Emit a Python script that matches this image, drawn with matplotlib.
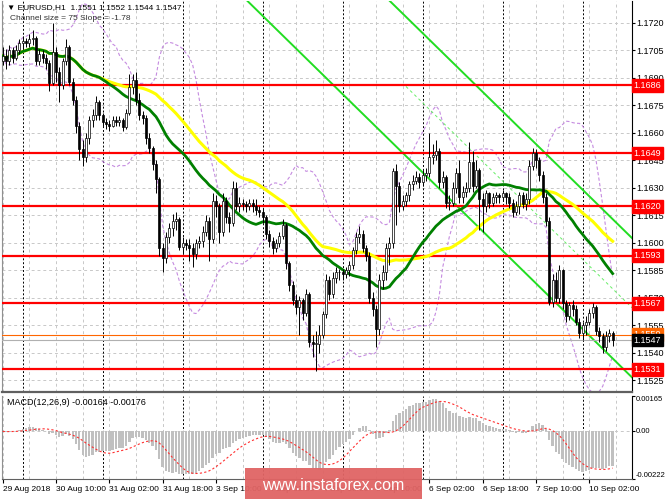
import numpy as np
import pandas as pd
import matplotlib
matplotlib.use('Agg')
from matplotlib import pyplot as plt
from matplotlib.patches import Rectangle

# EURUSD H1, bar 0 = 29 Aug 2018 18:00, last bar = 10 Sep 2018 09:00
first_open = 1.1699
closes = [
    1.1702, 1.1699, 1.1705, 1.1701, 1.1705, 1.1709, 1.1710, 1.1709,
    1.1711, 1.1712, 1.1699, 1.1703, 1.1701, 1.1698, 1.1687, 1.1704,
    1.1693, 1.1686, 1.1699, 1.1707, 1.1688, 1.1678, 1.1664, 1.1651,
    1.1647, 1.1657, 1.1667, 1.1670, 1.1677, 1.1670, 1.1666, 1.1665,
    1.1664, 1.1667, 1.1666, 1.1667, 1.1663, 1.1671, 1.1685, 1.1689,
    1.1678, 1.1670, 1.1668, 1.1657, 1.1652, 1.1643, 1.1635, 1.1597,
    1.1592, 1.1603, 1.1608, 1.1612, 1.1613, 1.1598, 1.1600, 1.1599,
    1.1597, 1.1594, 1.1600, 1.1601, 1.1606, 1.1612, 1.1602, 1.1623,
    1.1620, 1.1606, 1.1623, 1.1614, 1.1611, 1.1630, 1.1620, 1.1622,
    1.1621, 1.1620, 1.1622, 1.1620, 1.1618, 1.1617, 1.1614, 1.1605,
    1.1601, 1.1597, 1.1600, 1.1604, 1.1610, 1.1589, 1.1577, 1.1569,
    1.1565, 1.1569, 1.1562, 1.1572, 1.1546, 1.1545, 1.1545, 1.1550,
    1.1561, 1.1580, 1.1572, 1.1581, 1.1584, 1.1584, 1.1583, 1.1585,
    1.1588, 1.1596, 1.1603, 1.1605, 1.1597, 1.1593, 1.1570, 1.1564,
    1.1553, 1.1580, 1.1584, 1.1597, 1.1600, 1.1639, 1.1631, 1.1620,
    1.1623, 1.1626, 1.1632, 1.1634, 1.1636, 1.1633, 1.1637, 1.1638,
    1.1647, 1.1648, 1.1650, 1.1633, 1.1636, 1.1622, 1.1622, 1.1630,
    1.1638, 1.1625, 1.1628, 1.1630, 1.1644, 1.1631, 1.1640, 1.1624,
    1.1620, 1.1627, 1.1622, 1.1625, 1.1626, 1.1625, 1.1627, 1.1625,
    1.1622, 1.1617, 1.1620, 1.1626, 1.1621, 1.1624, 1.1642, 1.1649,
    1.1645, 1.1637, 1.1625, 1.1612, 1.1568, 1.1580, 1.1570, 1.1585,
    1.1567, 1.1560, 1.1566, 1.1564, 1.1557, 1.1551, 1.1555, 1.1557,
    1.1562, 1.1565, 1.1552, 1.1549, 1.1543, 1.1549, 1.1551, 1.1547,
]
highs = [
    1.1707, 1.1706, 1.1708, 1.1707, 1.1708, 1.1711, 1.1713, 1.1712,
    1.1714, 1.1716, 1.1713, 1.1706, 1.1705, 1.1703, 1.1700, 1.1720,
    1.1707, 1.1696, 1.1701, 1.1711, 1.1708, 1.1690, 1.1680, 1.1666,
    1.1656, 1.1660, 1.1669, 1.1673, 1.1680, 1.1678, 1.1671, 1.1668,
    1.1667, 1.1669, 1.1669, 1.1669, 1.1668, 1.1673, 1.1692, 1.1692,
    1.1693, 1.1682, 1.1672, 1.1670, 1.1660, 1.1653, 1.1645, 1.1636,
    1.1600, 1.1606, 1.1611, 1.1616, 1.1617, 1.1614, 1.1603, 1.1602,
    1.1602, 1.1600, 1.1602, 1.1604, 1.1609, 1.1615, 1.1614, 1.1627,
    1.1626, 1.1622, 1.1627, 1.1625, 1.1617, 1.1634, 1.1633, 1.1625,
    1.1624, 1.1623, 1.1624, 1.1624, 1.1624, 1.1620, 1.1619, 1.1615,
    1.1607, 1.1603, 1.1602, 1.1606, 1.1613, 1.1611, 1.1590, 1.1579,
    1.1572, 1.1571, 1.1570, 1.1575, 1.1573, 1.1550, 1.1552, 1.1555,
    1.1563, 1.1583, 1.1582, 1.1584, 1.1587, 1.1586, 1.1586, 1.1587,
    1.1590, 1.1598, 1.1606, 1.1609, 1.1607, 1.1599, 1.1595, 1.1573,
    1.1566, 1.1583, 1.1588, 1.1600, 1.1603, 1.1641, 1.1643, 1.1633,
    1.1626, 1.1628, 1.1634, 1.1637, 1.1639, 1.1638, 1.1640, 1.1641,
    1.1660, 1.1654, 1.1656, 1.1652, 1.1639, 1.1637, 1.1626, 1.1633,
    1.1641, 1.1645, 1.1631, 1.1633, 1.1655, 1.1650, 1.1645, 1.1641,
    1.1627, 1.1629, 1.1628, 1.1627, 1.1628, 1.1627, 1.1629, 1.1628,
    1.1627, 1.1624, 1.1623, 1.1628, 1.1628, 1.1627, 1.1645, 1.1652,
    1.1651, 1.1647, 1.1639, 1.1627, 1.1614, 1.1583, 1.1584, 1.1588,
    1.1586, 1.1569, 1.1568, 1.1569, 1.1566, 1.1559, 1.1557, 1.1560,
    1.1564, 1.1567, 1.1566, 1.1554, 1.1551, 1.1552, 1.1553, 1.1552,
]
lows = [
    1.1697, 1.1695, 1.1697, 1.1698, 1.1700, 1.1703, 1.1706, 1.1707,
    1.1707, 1.1708, 1.1697, 1.1697, 1.1698, 1.1695, 1.1683, 1.1686,
    1.1688, 1.1677, 1.1684, 1.1697, 1.1686, 1.1675, 1.1660, 1.1645,
    1.1642, 1.1644, 1.1654, 1.1663, 1.1667, 1.1667, 1.1664, 1.1662,
    1.1661, 1.1663, 1.1664, 1.1664, 1.1661, 1.1662, 1.1670, 1.1681,
    1.1675, 1.1667, 1.1665, 1.1654, 1.1649, 1.1640, 1.1627, 1.1593,
    1.1584, 1.1589, 1.1600, 1.1604, 1.1607, 1.1596, 1.1594, 1.1596,
    1.1590, 1.1587, 1.1591, 1.1597, 1.1598, 1.1604, 1.1590, 1.1600,
    1.1614, 1.1600, 1.1604, 1.1611, 1.1606, 1.1609, 1.1618, 1.1617,
    1.1618, 1.1617, 1.1618, 1.1617, 1.1615, 1.1614, 1.1611, 1.1602,
    1.1598, 1.1594, 1.1595, 1.1598, 1.1602, 1.1586, 1.1574, 1.1566,
    1.1561, 1.1550, 1.1558, 1.1560, 1.1543, 1.1538, 1.1530, 1.1540,
    1.1548, 1.1559, 1.1569, 1.1570, 1.1578, 1.1580, 1.1580, 1.1581,
    1.1582, 1.1586, 1.1594, 1.1600, 1.1595, 1.1590, 1.1567, 1.1560,
    1.1543, 1.1550, 1.1575, 1.1580, 1.1588, 1.1597, 1.1610, 1.1617,
    1.1618, 1.1620, 1.1623, 1.1629, 1.1632, 1.1630, 1.1631, 1.1634,
    1.1636, 1.1643, 1.1645, 1.1630, 1.1630, 1.1619, 1.1618, 1.1620,
    1.1627, 1.1622, 1.1622, 1.1625, 1.1628, 1.1628, 1.1630, 1.1607,
    1.1606, 1.1617, 1.1619, 1.1620, 1.1622, 1.1622, 1.1623, 1.1621,
    1.1619, 1.1614, 1.1615, 1.1616, 1.1619, 1.1618, 1.1621, 1.1640,
    1.1641, 1.1634, 1.1622, 1.1609, 1.1566, 1.1565, 1.1568, 1.1567,
    1.1564, 1.1557, 1.1558, 1.1560, 1.1555, 1.1548, 1.1547, 1.1550,
    1.1555, 1.1559, 1.1550, 1.1546, 1.1540, 1.1541, 1.1546, 1.1544,
]

levels = [1.1686, 1.1649, 1.1620, 1.1593, 1.1567, 1.1531]
bid_price = 1.1547
ask_price = 1.1550
price_ticks = [1.1525, 1.1540, 1.1555, 1.1570, 1.1585, 1.1600, 1.1615,
               1.1630, 1.1645, 1.1660, 1.1675, 1.1690, 1.1705, 1.1720]
macd_ticks = [-0.00222, 0.0, 0.00165]
macd_tick_labels = ['-0.00222', '0.00', '0.00165']

time_labels = ['29 Aug 2018', '30 Aug 10:00', '31 Aug 02:00', '31 Aug 18:00',
               '3 Sep 10:00', '4 Sep 02:00', '4 Sep 18:00', '5 Sep 10:00',
               '6 Sep 02:00', '6 Sep 18:00', '7 Sep 10:00', '10 Sep 02:00']
day_starts = [6, 30, 54, 78, 102, 126, 150, 174]

# regression channel (slope in pips per bar, as in the chart header)
channel_slope = -1.78
channel_mid_last = 1.1575
channel_half = 0.0038
channel_mid_start = 121

plt.rcParams['font.family'] = ['Liberation Sans', 'DejaVu Sans']
FS = 6.5

n = len(closes)
x = np.arange(n)
close = pd.Series(closes)
opens = np.array([first_open] + closes[:-1])
cl = np.array(closes)
hi = np.maximum(np.array(highs), np.maximum(opens, cl))
lo = np.minimum(np.array(lows), np.minimum(opens, cl))

ma30 = close.rolling(30, min_periods=1).mean()
ma50 = close.rolling(50, min_periods=1).mean()
bb_mid = close.rolling(20, min_periods=1).mean()
bb_std = close.rolling(20, min_periods=1).std(ddof=0)
bb_up = bb_mid + 2 * bb_std
bb_dn = bb_mid - 2 * bb_std
macd = close.ewm(span=12, adjust=False).mean() - close.ewm(span=26, adjust=False).mean()
signal = macd.rolling(9, min_periods=1).mean()

W, H = 665, 499
fig = plt.figure(figsize=(W / 100, H / 100), dpi=100)
left, right = 2 / W, 632 / W
ax = fig.add_axes([left, 1 - 392 / H, right - left, 391 / H])
axm = fig.add_axes([left, 1 - 479 / H, right - left, 83 / H])

xlim = (-0.2, 188.8)
for a in (ax, axm):
    a.set_xlim(*xlim)
    a.set_facecolor('white')
    for i in range(0, 190, 8):
        a.axvline(i, color='#c8c8c8', lw=0.7, ls=(0, (3, 3)), zorder=0)
    for d in day_starts:
        a.axvline(d, color='black', lw=0.7, ls=(0, (2, 2)), zorder=0.5)
    a.spines['top'].set_visible(False)
    a.spines['left'].set_color('#909090')
    a.spines['right'].set_color('black')
    a.spines['bottom'].set_color('#606060')
ax.spines['bottom'].set_linewidth(1.6)

ax.set_ylim(1.15187, 1.17320)
for p in price_ticks:
    ax.axhline(p, color='#c8c8c8', lw=0.7, ls=(0, (3, 3)), zorder=0)

# bollinger bands
for band in (bb_up, bb_dn):
    ax.plot(x, band, color='#c58be0', lw=0.8, ls=(0, (3, 2)), zorder=1)

# regression channel
slope = channel_slope * 0.0001
xx = np.array([xlim[0], xlim[1]])
mid_full = channel_mid_last + slope * (xx - (n - 1))
ax.plot(xx, mid_full + channel_half, color='#22dd22', lw=1.4, zorder=2)
ax.plot(xx, mid_full - channel_half, color='#22dd22', lw=1.4, zorder=2)
xm = np.array([channel_mid_start, xlim[1]])
ax.plot(xm, channel_mid_last + slope * (xm - (n - 1)), color='#66ee66',
        lw=0.7, ls=(0, (3, 3)), zorder=2)

# level lines
for lv in levels:
    ax.axhline(lv, color='#ff0000', lw=1.6, zorder=3)
ax.axhline(ask_price, color='#ff6600', lw=0.8, zorder=3)
ax.axhline(bid_price, color='#b0b0b0', lw=0.8, zorder=3)

# moving averages
ax.plot(x, ma50, color='#ffff00', lw=2.2, zorder=4)
ax.plot(x, ma30, color='#008000', lw=2.0, zorder=4)

# candles
up = cl >= opens
ax.vlines(x, lo, hi, color='black', lw=0.7, zorder=5)
body_lo = np.minimum(opens, cl)
body_h = np.maximum(np.abs(cl - opens), 0.00004)
ax.bar(x[up], body_h[up], bottom=body_lo[up], width=0.62, color='white',
       edgecolor='black', linewidth=0.5, zorder=6)
ax.bar(x[~up], body_h[~up], bottom=body_lo[~up], width=0.62, color='black',
       edgecolor='black', linewidth=0.5, zorder=6)

ax.yaxis.tick_right()
ax.set_yticks(price_ticks)
ax.set_yticklabels(['%.4f' % p for p in price_ticks])
ax.tick_params(axis='y', labelsize=FS, length=2, pad=1, colors='black')
ax.set_xticks([])


# price labels on the right axis
def price_box(a, price, text, face, fg='white'):
    a.annotate(text, xy=(1.0, price), xycoords=('axes fraction', 'data'),
               xytext=(1.2, 0), textcoords='offset points', ha='left', va='center',
               fontsize=FS, color=fg, annotation_clip=False, zorder=10,
               bbox=dict(boxstyle='square,pad=0.2', fc=face, ec=face))


for lv in levels:
    price_box(ax, lv, '%.4f' % lv, '#ff0000')
price_box(ax, ask_price, '%.4f' % ask_price, '#ff6600')
price_box(ax, bid_price, '%.4f' % bid_price, 'black')

ax.text(0.008, 0.993, '\u25bc EURUSD,H1  1.1551 1.1552 1.1544 1.1547', transform=ax.transAxes,
        ha='left', va='top', fontsize=6, zorder=11)
ax.text(0.012, 0.964, 'Channel size = 75 Slope = -1.78', transform=ax.transAxes,
        ha='left', va='top', fontsize=6, color='#333333', zorder=11)

# MACD panel
axm.set_ylim(-0.00222, 0.00165)
axm.axhline(0, color='#c8c8c8', lw=0.7, ls=(0, (3, 3)), zorder=0)
axm.bar(x, macd, width=0.7, color='#c0c0c0', zorder=2)
axm.plot(x, signal, color='#ff3030', lw=0.8, ls=(0, (2, 2)), zorder=3)
axm.yaxis.tick_right()
axm.set_yticks(macd_ticks)
axm.set_yticklabels(macd_tick_labels)
axm.tick_params(axis='y', labelsize=5.5, length=2, pad=0.5)
for lab, va in zip(axm.get_yticklabels(), ['bottom', 'center', 'top']):
    lab.set_verticalalignment(va)
axm.set_xticks(np.arange(0, 16 * len(time_labels), 16))
axm.set_xticklabels(time_labels, ha='left')
axm.tick_params(axis='x', labelsize=6, length=3, pad=2)
axm.text(0.008, 0.97, 'MACD(12,26,9) -0.00164 -0.00176', transform=axm.transAxes,
         ha='left', va='top', fontsize=6.5, zorder=11)

# watermark
fig.patches.append(Rectangle((245 / W, 0), 177 / W, 31 / H, transform=fig.transFigure,
                             facecolor='#e06464', edgecolor='none', alpha=0.95, zorder=20))
fig.text(333 / W, 1 - 485 / H, 'www.instaforex.com', ha='center', va='center',
         color='white', fontsize=11.5, zorder=21)

fig.savefig('out.png', dpi=100)
